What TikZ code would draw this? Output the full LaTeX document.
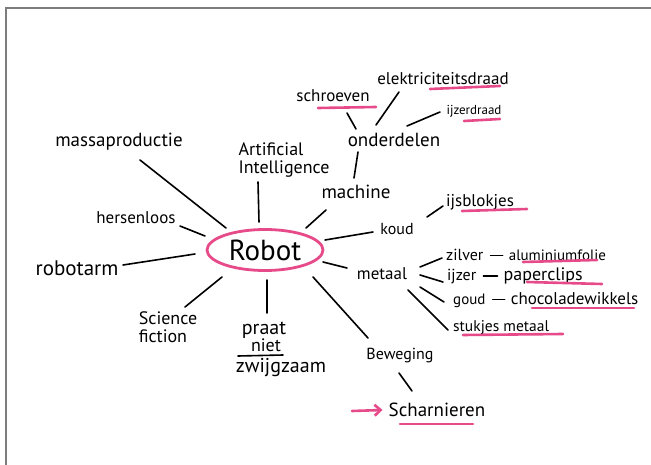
\documentclass[tikz,border=0pt]{standalone}
\usepackage{fontspec}
\setmainfont{PT Sans}
\usetikzlibrary{arrows.meta,positioning,shapes.geometric}
\definecolor{marker}{RGB}{230,74,137}
\definecolor{framegray}{RGB}{125,125,125}
\tikzset{
  word/.style={
    inner sep=0pt,
    font=\fontsize{#1}{#1}\selectfont
  },
  word/.default=18,
  link/.style={
    line width=1.6pt,
    line cap=round
  },
  bar/.style={
    link,
    shorten <=7pt,
    shorten >=6pt
  },
  pinkline/.style={
    draw=marker,
    line width=2.6pt,
    line cap=round
  },
  ring/.style={
    ellipse,
    draw=marker,
    line width=2.8pt,
    minimum width=116pt,
    minimum height=41pt
  },
%  pointer/.style={draw=marker},
  every picture/.style={
    x=1pt, y=-1pt
  }
}

\begin{document}
\begin{tikzpicture}
  \useasboundingbox (0,0) rectangle (651,465);
  \draw[framegray, line width=1.5pt] (6,465) -- (6,8) -- (651,8);

  % centre
  \node[ring, word=29] (robot) at (265,250) {Robot};

  % left side
  \node[word=19] (massa) at (119,142) {massaproductie};
  \node[word=18, align=left] (ai) at (284,160) {Artificial\\Intelligence};
  \node[word=17] (hersen) at (136,218) {hersenloos};
  \node[word=21] (arm) at (77,268) {robotarm};
  \node[word=18, align=left] (scifi) at (168,327) {Science\\fiction};
  \node[word=20] (praat) at (264,330) {praat};
  \node[word=18] (niet) at (266,345) {niet};
  \node[word=20] (zwijg) at (281,368) {zwijgzaam};
  \node[word=16] (beweging) at (400,356) {Beweging};
  \node[word=19] (scharnieren) at (437,410) {Scharnieren};

  % right side
  \node[word=19] (machine) at (356,192) {machine};
  \node[word=19] (onderdelen) at (394,140) {onderdelen};
  \node[word=17] (schroeven) at (333,96) {schroeven};
  \node[word=17] (elektra) at (443,79) {elektriciteitsdraad};
  \node[word=13] (ijzerdraad) at (474,111) {ijzerdraad};
  \node[word=16] (koud) at (397,229) {koud};
  \node[word=17] (ijs) at (480,202) {ijsblokjes};
  \node[word=17] (metaal) at (382,274) {metaal};
  \node[word=16, anchor=west] (zilver) at (446,255) {zilver};
  \node[word=15, base right=25pt of zilver] (alu) {aluminiumfolie};
  \node[word=16, anchor=west] (ijzer) at (447,277) {ijzer};
  \node[word=18, base right=27pt of ijzer] (clips) {paperclips};
  \node[word=15, anchor=west] (goud) at (453,301) {goud};
  \node[word=17, base right=25pt of goud] (choco) {chocoladewikkels};
  \node[word=15.5, anchor=west] (stukjes) at (453,328) {stukjes metaal};

  % lines from the centre
  \draw[link] ([shift={(-39,-22)}]robot.center) -- ([shift={(21,18)}]massa.center);
  \draw[link] ([shift={(-6,-28)}]robot.center) -- ([shift={(-26,22)}]ai.center);
  \draw[link] ([shift={(-60,-14)}]robot.center) -- ([shift={(44,8)}]hersen.center);
  \draw[link] ([shift={(-70,4)}]robot.center) -- ([shift={(46,-3)}]arm.center);
  \draw[link] ([shift={(-43,27)}]robot.center) -- ([shift={(17,-20)}]scifi.center);
  \draw[link] ([shift={(2,30)}]robot.center) -- ([shift={(3,-17)}]praat.center);
  \draw[link] ([shift={(48,27)}]robot.center) -- ([shift={(-32,-18)}]beweging.center);
  \draw[link] ([shift={(41,-22)}]robot.center) -- ([shift={(-30,18)}]machine.center);
  \draw[link] ([shift={(60,-10)}]robot.center) -- ([shift={(-24,3)}]koud.center);
  \draw[link] ([shift={(58,12)}]robot.center) -- ([shift={(-35,-6)}]metaal.center);

  % second ring
  \draw[link] ([shift={(-1,17)}]beweging.center) -- ([shift={(-25,-19)}]scharnieren.center);
  \draw[link] ([shift={(-2,-14)}]machine.center) -- ([shift={(-36,12)}]onderdelen.center);
  \draw[link] ([shift={(-38,-11)}]onderdelen.center) -- ([shift={(14,17)}]schroeven.center);
  \draw[link] ([shift={(-18,-15)}]onderdelen.center) -- ([shift={(-44,13)}]elektra.center);
  \draw[link] ([shift={(13,-14)}]onderdelen.center) -- ([shift={(-34,1)}]ijzerdraad.center);
  \draw[link] ([shift={(30,-12)}]koud.center) -- ([shift={(-37,4)}]ijs.center);
  \draw[link] ([shift={(38,-7)}]metaal.center) -- ([shift={(-4,3)}]zilver.west);
  \draw[link] ([shift={(38,1)}]metaal.center) -- ([shift={(-4,5)}]ijzer.west);
  \draw[link] ([shift={(38,13)}]metaal.center) -- ([shift={(-9,1)}]goud.west);
  \draw[link] ([shift={(26,16)}]metaal.center) -- ([shift={(-5,2)}]stukjes.west);

  % dashes between the pairs
  \draw[bar] ([yshift=5pt]zilver.base east) -- ([yshift=5pt]alu.base west);
  \draw[bar] ([yshift=5pt]ijzer.base east) -- ([yshift=5pt]clips.base west);
  \draw[bar] ([yshift=5pt]goud.base east) -- ([yshift=5pt]choco.base west);

  % underlines
  \draw[link] (238,356) -- (283,355);
  \draw[pinkline] (318,108) -- (376,107);
  \draw[pinkline] (430,89) -- (500,86);
  \draw[pinkline] (464,121) -- (500,119);
  \draw[pinkline] (462,211) -- (527,209);
  \draw[pinkline] (523,262) -- (597,260);
  \draw[pinkline] (527,282) -- (602,284);
  \draw[pinkline] (532,308) -- (634,308);
  \draw[pinkline] (463,335) -- (563,334);
  \draw[pinkline] (400,424) -- (473,424);

  \coordinate (pointer) at (352,411);
  \draw[pinkline, -{Straight Barb[length=6pt,width=11pt]}] (pointer) -- ([xshift=-6pt]scharnieren.west);
\end{tikzpicture}
\end{document}
